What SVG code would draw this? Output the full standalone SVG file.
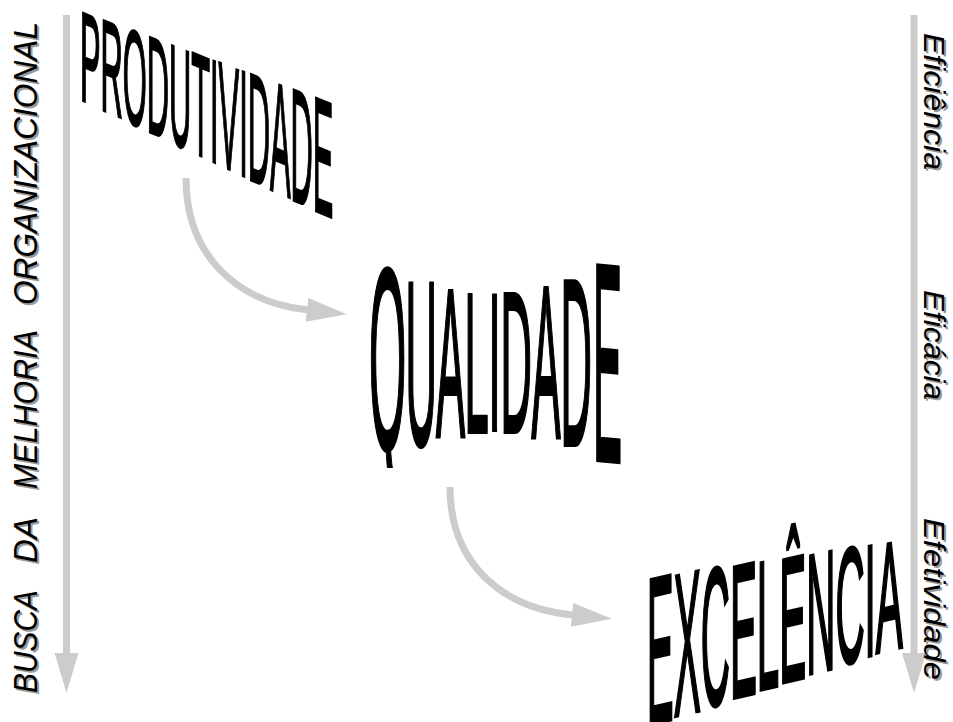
<svg xmlns="http://www.w3.org/2000/svg" width="953" height="722" viewBox="0 0 953 722">
<style>
.side{font-family:"Liberation Sans",Arial,sans-serif;font-style:italic;font-size:32.5px;fill:#000}
.sider{font-size:30px}
.shadow{fill:#9a9a9a}
.wa{font-family:"Liberation Sans",Arial,sans-serif;fill:#000;stroke:#000;stroke-width:2.2;vector-effect:non-scaling-stroke;stroke-linejoin:miter}
.wa3{stroke-width:3}
.conn{fill:none;stroke:#cccccc;stroke-width:7}
</style>
<defs>
<marker id="head" markerUnits="userSpaceOnUse" markerWidth="40" markerHeight="24" refX="1" refY="12" orient="auto" overflow="visible">
<path d="M0,0 L40,12 L0,24 Z" fill="#cccccc"/>
</marker>
<clipPath id="qclip"><rect x="300" y="200" width="200" height="268"/></clipPath>
</defs>
<rect width="953" height="722" fill="#fff"/>
<g id="connectors">
<path class="conn" d="M66.5,15 V654" marker-end="url(#head)"/>
<path class="conn" d="M914,15 V654" marker-end="url(#head)"/>
<path class="conn" d="M186,178 C186,255 236,302 308,310" marker-end="url(#head)"/>
<path class="conn" d="M450,487 C450,562 500,608 573,615" marker-end="url(#head)"/>
</g>
<g id="label-left">
<g transform="translate(2,2) rotate(-90)">
<text class="side shadow" x="-693" y="37" textLength="103" lengthAdjust="spacingAndGlyphs">BUSCA</text>
<text class="side shadow" x="-563" y="37" textLength="46" lengthAdjust="spacingAndGlyphs">DA</text>
<text class="side shadow" x="-489" y="37" textLength="159" lengthAdjust="spacingAndGlyphs">MELHORIA</text>
<text class="side shadow" x="-305" y="37" textLength="283" lengthAdjust="spacingAndGlyphs">ORGANIZACIONAL</text>
</g>
<g transform="rotate(-90)">
<text class="side" x="-693" y="37" textLength="103" lengthAdjust="spacingAndGlyphs">BUSCA</text>
<text class="side" x="-563" y="37" textLength="46" lengthAdjust="spacingAndGlyphs">DA</text>
<text class="side" x="-489" y="37" textLength="159" lengthAdjust="spacingAndGlyphs">MELHORIA</text>
<text class="side" x="-305" y="37" textLength="283" lengthAdjust="spacingAndGlyphs">ORGANIZACIONAL</text>
</g>
</g>
<g id="label-right">
<g transform="translate(2,2) rotate(90)">
<text class="side sider shadow" x="33" y="-924" textLength="137" lengthAdjust="spacingAndGlyphs">Eficiência</text>
<text class="side sider shadow" x="290" y="-924" textLength="110" lengthAdjust="spacingAndGlyphs">Eficácia</text>
<text class="side sider shadow" x="518" y="-924" textLength="162" lengthAdjust="spacingAndGlyphs">Efetividade</text>
</g>
<g transform="rotate(90)">
<text class="side sider" x="33" y="-924" textLength="137" lengthAdjust="spacingAndGlyphs">Eficiência</text>
<text class="side sider" x="290" y="-924" textLength="110" lengthAdjust="spacingAndGlyphs">Eficácia</text>
<text class="side sider" x="518" y="-924" textLength="162" lengthAdjust="spacingAndGlyphs">Efetividade</text>
</g>
</g>
<g id="produtividade" font-size="30.8">
<text class="wa" transform="matrix(1,0.417,0,4.119,80,99.17)">P</text>
<text class="wa" transform="matrix(1,0.417,0,4.230,100.54,108.94)">R</text>
<text class="wa" transform="matrix(1,0.417,0,4.349,122.78,119.53)">O</text>
<text class="wa" transform="matrix(1,0.417,0,4.469,146.74,130.84)">D</text>
<text class="wa" transform="matrix(1,0.417,0,4.584,168.98,141.39)">U</text>
<text class="wa" transform="matrix(1,0.417,0,4.690,191.22,151.84)">T</text>
<text class="wa" transform="matrix(1,0.417,0,4.761,210.04,160.47)">I</text>
<text class="wa" transform="matrix(1,0.417,0,4.836,218.60,164.86)">V</text>
<text class="wa" transform="matrix(1,0.417,0,4.911,239.14,174.26)">I</text>
<text class="wa" transform="matrix(1,0.417,0,4.991,247.70,178.70)">D</text>
<text class="wa" transform="matrix(1,0.417,0,5.101,269.94,189.20)">A</text>
<text class="wa" transform="matrix(1,0.417,0,5.212,290.48,198.98)">D</text>
<text class="wa" transform="matrix(1,0.417,0,5.322,312.72,209.47)">E</text>
</g>
<g id="qualidade" font-size="43.5">
<g clip-path="url(#qclip)"><text class="wa wa3" transform="matrix(1.1,0,0,5.95,369,449)">Q</text></g>
<text class="wa wa3" transform="matrix(1,0,0,5.36,405.5,445)">U</text>
<text class="wa wa3" transform="matrix(1,0,0,4.88,436,437)">A</text>
<text class="wa wa3" transform="matrix(1,0,0,4.56,464.5,432)">L</text>
<text class="wa wa3" transform="matrix(1,0,0,4.49,488.5,430)">I</text>
<text class="wa wa3" transform="matrix(1,0,0,4.62,500.5,432)">D</text>
<text class="wa wa3" transform="matrix(1,0,0,4.98,531.5,438)">A</text>
<text class="wa wa3" transform="matrix(1,0,0,5.46,560.5,445)">D</text>
<text class="wa wa3" transform="matrix(1,0.1,0,6.5,593,459.5)">E</text>
</g>
<g id="excelencia" font-size="40.4">
<text class="wa wa3" transform="matrix(1,-0.2285,0,5.18,646.8,725.0)">E</text>
<text class="wa wa3" transform="matrix(1,-0.2285,0,5.02,673.75,716.5)">X</text>
<text class="wa wa3" transform="matrix(1,-0.2285,0,4.85,700.7,707.9)">C</text>
<text class="wa wa3" transform="matrix(1,-0.2285,0,4.69,729.9,698.8)">E</text>
<text class="wa wa3" transform="matrix(1,-0.2285,0,4.54,756.8,690.6)">L</text>
<text class="wa wa3" transform="matrix(1,-0.2285,0,4.39,779.3,683.3)">Ê</text>
<text class="wa wa3" transform="matrix(1,-0.2285,0,4.22,806.2,674.6)">N</text>
<text class="wa wa3" transform="matrix(1,-0.2285,0,4.05,835.4,665.5)">C</text>
<text class="wa wa3" transform="matrix(1,-0.2285,0,3.93,864.6,657.1)">I</text>
<text class="wa wa3" transform="matrix(1,-0.2285,0,3.81,875.8,652.9)">A</text>
</g>
</svg>
